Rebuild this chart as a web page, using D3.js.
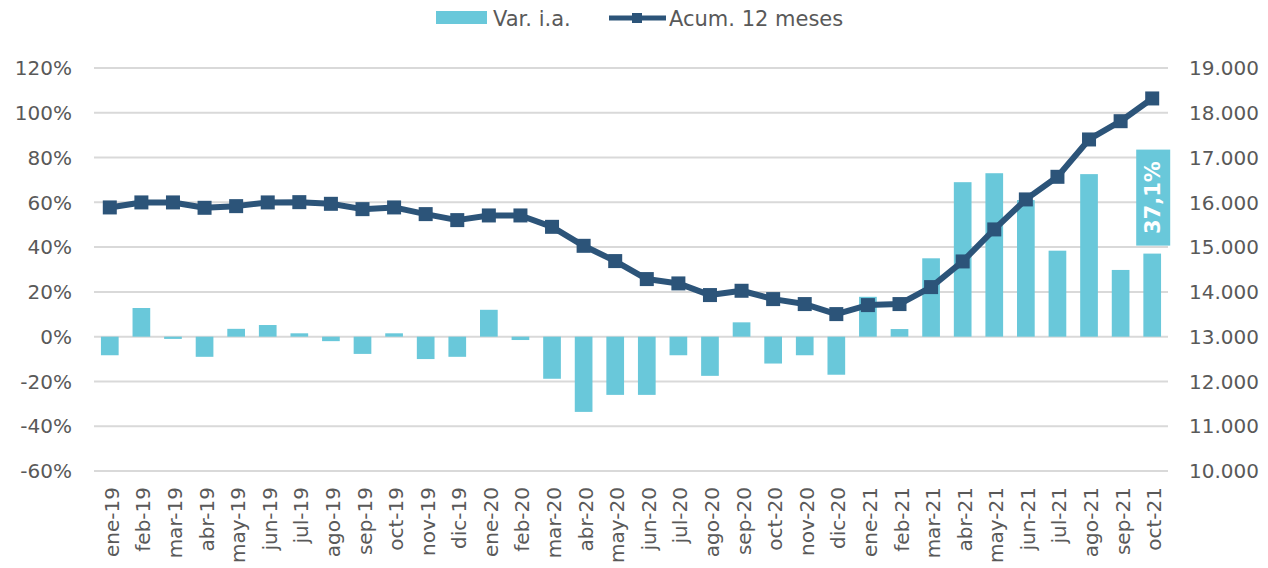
<!DOCTYPE html>
<html>
<head>
<meta charset="utf-8">
<script src="https://cdn.jsdelivr.net/npm/d3@7"></script>
<style>
  body { margin: 0; background: #fff; }
  svg { display: block; font-family: 'DejaVu Sans', Verdana, sans-serif; }
</style>
</head>
<body>
<svg id="chart" width="1268" height="568"></svg>
<script>
// months shown on the x axis
const months = ['ene-19', 'feb-19', 'mar-19', 'abr-19', 'may-19', 'jun-19', 'jul-19', 'ago-19', 'sep-19', 'oct-19', 'nov-19', 'dic-19',
  'ene-20', 'feb-20', 'mar-20', 'abr-20', 'may-20', 'jun-20', 'jul-20', 'ago-20', 'sep-20', 'oct-20', 'nov-20', 'dic-20',
  'ene-21', 'feb-21', 'mar-21', 'abr-21', 'may-21', 'jun-21', 'jul-21', 'ago-21', 'sep-21', 'oct-21']
// Var. i.a. (%), left axis
const varIA = [-8.3, 12.8, -1.0, -9.0, 3.5, 5.2, 1.5, -2.0, -7.7, 1.5, -10.0, -9.0,
  12.0, -1.5, -18.8, -33.6, -26.0, -26.0, -8.3, -17.5, 6.4, -12.0, -8.3, -17.0,
  17.8, 3.4, 35.0, 69.0, 73.0, 61.0, 38.4, 72.6, 29.8, 37.1]
// Acum. 12 meses, right axis
const acum = [15886, 15998, 15998, 15878, 15915, 15998, 16004, 15967, 15848, 15886, 15737, 15603,
  15707, 15707, 15453, 15029, 14688, 14286, 14189, 13929, 14025, 13839, 13728, 13504,
  13705, 13728, 14107, 14680, 15395, 16065, 16570, 17404, 17812, 18320]
const leftTicks = [-60, -40, -20, 0, 20, 40, 60, 80, 100, 120]
const rightTicks = [10000, 11000, 12000, 13000, 14000, 15000, 16000, 17000, 18000, 19000]
const seriesNames = ['Var. i.a.', 'Acum. 12 meses']
const lastLabel = '37,1%'

const barColor = '#69c8da'
const lineColor = '#2c5479'
const textColor = '#595959'

let svg = d3.select('#chart')
let plot = { left: 94, right: 1168, top: 68, bottom: 471 }

let x = d3.scaleBand().domain(months).range([plot.left, plot.right]).paddingInner(0.44).paddingOuter(0.22)
let xc = d => x(d) + x.bandwidth() / 2
let yL = d3.scaleLinear().domain([-60, 120]).range([plot.bottom, plot.top])
let yR = d3.scaleLinear().domain([10000, 19000]).range([plot.bottom, plot.top])

// gridlines
svg.append('g')
  .selectAll('line')
  .data(leftTicks)
  .join('line')
  .attr('x1', plot.left)
  .attr('x2', plot.right)
  .attr('y1', d => yL(d))
  .attr('y2', d => yL(d))
  .attr('stroke', '#d9d9d9')
  .attr('stroke-width', 2)

// left axis labels
svg.append('g')
  .selectAll('text')
  .data(leftTicks)
  .join('text')
  .attr('x', 72)
  .attr('y', d => yL(d))
  .attr('dy', '0.36em')
  .attr('text-anchor', 'end')
  .attr('font-size', 20)
  .attr('fill', textColor)
  .text(d => d + '%')

// right axis labels
let fmtR = d => d3.format(',')(d).replace(',', '.')
svg.append('g')
  .selectAll('text')
  .data(rightTicks)
  .join('text')
  .attr('x', 1189)
  .attr('y', d => yR(d))
  .attr('dy', '0.36em')
  .attr('font-size', 20)
  .attr('fill', textColor)
  .text(fmtR)

// x labels
svg.append('g')
  .selectAll('text')
  .data(months)
  .join('text')
  .attr('transform', d => 'translate(' + (xc(d) + 9) + ',487) rotate(-90)')
  .attr('text-anchor', 'end')
  .attr('font-size', 20)
  .attr('fill', textColor)
  .text(d => d)

// bars
svg.append('g')
  .selectAll('rect')
  .data(months)
  .join('rect')
  .attr('x', d => x(d))
  .attr('width', x.bandwidth())
  .attr('y', (d, i) => yL(Math.max(0, varIA[i])))
  .attr('height', (d, i) => Math.abs(yL(varIA[i]) - yL(0)))
  .attr('fill', barColor)

// line
let line = d3.line()
  .x((d, i) => xc(months[i]))
  .y(d => yR(d))
svg.append('path')
  .datum(acum)
  .attr('d', line)
  .attr('fill', 'none')
  .attr('stroke', lineColor)
  .attr('stroke-width', 6)
  .attr('stroke-linejoin', 'round')

svg.append('g')
  .selectAll('rect')
  .data(acum)
  .join('rect')
  .attr('x', (d, i) => xc(months[i]) - 7)
  .attr('y', d => yR(d) - 7)
  .attr('width', 14)
  .attr('height', 14)
  .attr('fill', lineColor)

// data label on last bar
let last = months.length - 1
let lbl = svg.append('g')
  .attr('transform', 'translate(' + xc(months[last]) + ',' + (yL(varIA[last]) - 8) + ')')
lbl.append('rect')
  .attr('x', -16)
  .attr('y', -96)
  .attr('width', 34)
  .attr('height', 96)
  .attr('fill', barColor)
lbl.append('text')
  .attr('transform', 'translate(8,-48) rotate(-90)')
  .attr('text-anchor', 'middle')
  .attr('font-size', 21)
  .attr('font-weight', 'bold')
  .attr('fill', '#fff')
  .text(lastLabel)

// legend
let legend = svg.append('g')
legend.append('rect')
  .attr('x', 436).attr('y', 11).attr('width', 51).attr('height', 13)
  .attr('fill', barColor)
legend.append('text')
  .attr('x', 493).attr('y', 26)
  .attr('font-size', 21).attr('fill', textColor)
  .text(seriesNames[0])
legend.append('line')
  .attr('x1', 609).attr('x2', 666).attr('y1', 18).attr('y2', 18)
  .attr('stroke', lineColor).attr('stroke-width', 5)
legend.append('rect')
  .attr('x', 632).attr('y', 13).attr('width', 10).attr('height', 10)
  .attr('fill', lineColor)
legend.append('text')
  .attr('x', 669).attr('y', 26)
  .attr('font-size', 21).attr('fill', textColor)
  .text(seriesNames[1])
</script>
</body>
</html>
